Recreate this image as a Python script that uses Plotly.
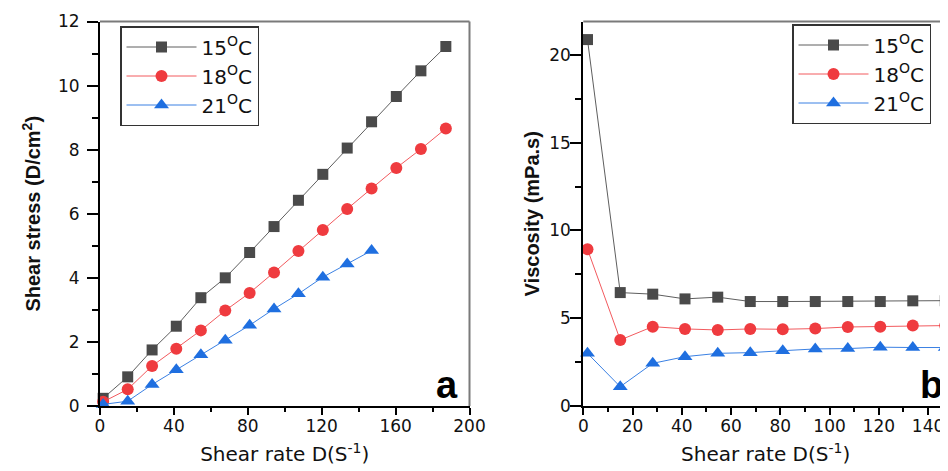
import plotly.graph_objects as go

# ---------------- data ----------------
shear_rate = [1.7, 15.0, 28.2, 41.3, 54.6, 67.8, 81.0, 94.2, 107.4, 120.6, 133.8, 147.0, 160.4, 173.7, 187.2]

stress_15 = [0.24, 0.91, 1.75, 2.49, 3.38, 4.00, 4.79, 5.60, 6.42, 7.23, 8.05, 8.87, 9.66, 10.46, 11.22]
stress_18 = [0.13, 0.52, 1.25, 1.79, 2.36, 2.98, 3.53, 4.17, 4.84, 5.49, 6.15, 6.79, 7.43, 8.02, 8.66]
stress_21 = [0.05, 0.15, 0.67, 1.13, 1.60, 2.05, 2.52, 3.03, 3.50, 4.02, 4.43, 4.85]

visc_15 = [20.87, 6.46, 6.37, 6.10, 6.20, 5.95, 5.95, 5.95, 5.95, 5.95, 5.99, 6.00]
visc_18 = [8.93, 3.76, 4.52, 4.39, 4.33, 4.39, 4.37, 4.41, 4.50, 4.52, 4.58, 4.58]
visc_21 = [3.00, 1.10, 2.43, 2.81, 3.00, 3.04, 3.15, 3.25, 3.27, 3.35, 3.33, 3.33]

series_names = ["15<sup>O</sup>C", "18<sup>O</sup>C", "21<sup>O</sup>C"]
x_ticks_a = [0, 40, 80, 120, 160, 200]
y_ticks_a = [0, 2, 4, 6, 8, 10, 12]
x_ticks_b = [0, 20, 40, 60, 80, 100, 120, 140]
y_ticks_b = [0, 5, 10, 15, 20]

# ---------------- layout helpers ----------------
# the page body has an 8px margin, so the figure is drawn 8px in from the window corner
OFF = 8
W, H = 948 - OFF, 471 - OFF
def px(p):
    return (p - OFF) / W
def py(p):
    return 1 - (p - OFF) / H

styles = [
    dict(symbol="square", size=11, mcolor="#4a4a4a", lcolor="#5e5e5e"),
    dict(symbol="circle", size=12, mcolor="#ef3b3f", lcolor="#f25a5e"),
    dict(symbol="triangle-up", size=13, mcolor="#1f6fe0", lcolor="#3a80e3"),
]

fig = go.Figure()

left_y = [stress_15, stress_18, stress_21]
right_y = [visc_15, visc_18, visc_21]

for i, (name, st) in enumerate(zip(series_names, styles)):
    ys = left_y[i]
    fig.add_trace(go.Scatter(
        x=shear_rate[:len(ys)], y=ys, name=name, mode="lines+markers",
        xaxis="x", yaxis="y", legend="legend", cliponaxis=False,
        line=dict(color=st["lcolor"], width=1),
        marker=dict(symbol=st["symbol"], size=st["size"], color=st["mcolor"]),
    ))
for i, (name, st) in enumerate(zip(series_names, styles)):
    ys = right_y[i]
    fig.add_trace(go.Scatter(
        x=shear_rate[:len(ys)], y=ys, name=name, mode="lines+markers",
        xaxis="x2", yaxis="y2", legend="legend2", cliponaxis=False,
        line=dict(color=st["lcolor"], width=1),
        marker=dict(symbol=st["symbol"], size=st["size"], color=st["mcolor"]),
    ))

tick_font = dict(family="DejaVu Sans", size=17, color="#111111")
xtitle_font = dict(family="DejaVu Sans", size=20, color="#111111")
ytitle_font = dict(family="Liberation Sans", size=20, color="#111111", weight="bold")
legend_font = dict(family="DejaVu Sans", size=20, color="#111111")

common_x = dict(showline=True, linecolor="black", linewidth=2, ticks="outside",
                ticklen=7, tickwidth=1.5, tickcolor="black", showgrid=False,
                zeroline=False, tickfont=tick_font, automargin=False,
                ticklabelstandoff=-3)
common_y = dict(showline=True, linecolor="black", linewidth=2, ticks="outside",
                ticklen=11, tickwidth=1.5, tickcolor="black", showgrid=False,
                zeroline=False, tickfont=tick_font, automargin=False)

ydom = [py(406), py(21.5)]

fig.update_layout(
    width=W, height=H,
    margin=dict(l=0, r=0, t=0, b=0, autoexpand=False),
    paper_bgcolor="white", plot_bgcolor="white",
    xaxis=dict(common_x, domain=[px(100), px(469.5)], range=[0, 200],
               tickvals=x_ticks_a, anchor="y",
               minor=dict(ticks="outside", dtick=20, ticklen=4, tickwidth=1.5, tickcolor="black"),
               title=dict(text="Shear rate D(S<sup>-1</sup>)", font=xtitle_font, standoff=12)),
    yaxis=dict(common_y, domain=ydom, range=[0, 12], tickvals=y_ticks_a, anchor="x",
               ticklabelstandoff=4,
               minor=dict(ticks="outside", dtick=1, ticklen=6, tickwidth=1.5, tickcolor="black"),
               title=dict(text="Shear stress (D/cm<sup>2</sup>)", font=ytitle_font, standoff=12)),
    xaxis2=dict(common_x, domain=[px(583.3), 1], range=[0, 148.1],
                tickvals=x_ticks_b, anchor="y2",
                minor=dict(ticks="outside", dtick=10, ticklen=4, tickwidth=1.5, tickcolor="black"),
                title=dict(text="Shear rate D(S<sup>-1</sup>)", font=xtitle_font, standoff=12)),
    yaxis2=dict(common_y, domain=ydom, range=[0, 21.9], tickvals=y_ticks_b, anchor="x2",
                ticklabelstandoff=-4,
                minor=dict(ticks="outside", dtick=2.5, ticklen=6, tickwidth=1.5, tickcolor="black"),
                title=dict(text="Viscosity (mPa.s)", font=ytitle_font, standoff=4)),
    legend=dict(x=px(120), y=py(26), xanchor="left", yanchor="top",
                bgcolor="white", bordercolor="#333333", borderwidth=1.5,
                font=legend_font, itemwidth=70, tracegroupgap=0),
    legend2=dict(x=px(792), y=py(24), xanchor="left", yanchor="top",
                 bgcolor="white", bordercolor="#333333", borderwidth=1.5,
                 font=legend_font, itemwidth=70, tracegroupgap=0),
    showlegend=True,
)

# grey frame lines (top/right)
fig.add_shape(type="line", xref="x domain", yref="y domain", x0=0, x1=1, y0=1, y1=1,
              line=dict(color="#7a7a7a", width=2))
fig.add_shape(type="line", xref="x domain", yref="y domain", x0=1, x1=1, y0=0, y1=1,
              line=dict(color="#7a7a7a", width=2))
fig.add_shape(type="line", xref="x2 domain", yref="y2 domain", x0=0, x1=1, y0=1, y1=1,
              line=dict(color="#7a7a7a", width=2))

panel_font = dict(family="Liberation Sans", size=38, color="black", weight="bold")
fig.add_annotation(text="a", xref="paper", yref="paper", x=px(447), y=py(385),
                   xanchor="center", yanchor="middle", showarrow=False, font=panel_font)
fig.add_annotation(text="b", xref="paper", yref="paper", x=px(918), y=py(385),
                   xanchor="left", yanchor="middle", showarrow=False, font=panel_font)

fig.write_html("out.html")
